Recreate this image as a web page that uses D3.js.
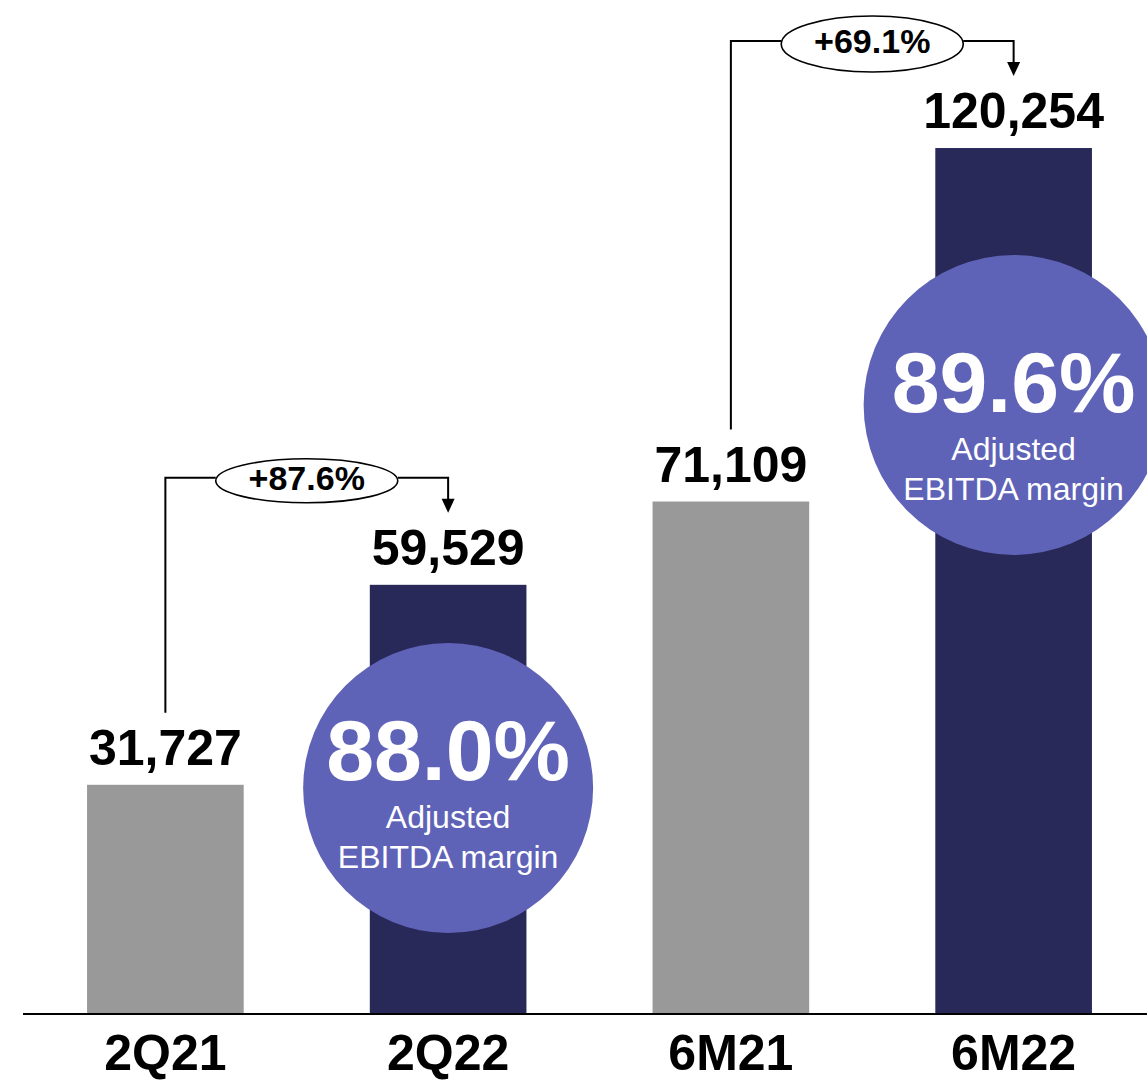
<!DOCTYPE html>
<html>
<head>
<meta charset="utf-8">
<script src="https://cdn.jsdelivr.net/npm/d3@7/dist/d3.min.js"></script>
<style>
  html, body { margin: 0; padding: 0; background: #ffffff; }
  svg { display: block; }
  text { font-family: "Liberation Sans", Arial, sans-serif; }
</style>
</head>
<body>
<svg id="chart" width="1147" height="1081"></svg>
<script>
// Adjusted EBITDA by period
const periods = ["2Q21", "2Q22", "6M21", "6M22"];
const ebitda = [31727, 59529, 71109, 120254];
const valueLabels = ["31,727", "59,529", "71,109", "120,254"];

// Year-over-year growth brackets (from period -> to period)
const growthFrom = ["2Q21", "6M21"];
const growthTo = ["2Q22", "6M22"];
const growthLabels = ["+87.6%", "+69.1%"];

// Adjusted EBITDA margin badges
const marginPeriods = ["2Q22", "6M22"];
const marginLabels = ["88.0%", "89.6%"];
const marginCaption = ["Adjusted", "EBITDA margin"];

// Colours
const barColors = { "2Q21": "#999999", "2Q22": "#282958", "6M21": "#999999", "6M22": "#282958" };
const badgeColor = "#5f63b8";

const W = 1147, H = 1081;
const baseY = 1013;

const svg = d3.select("#chart");

const x = d3.scaleBand()
  .domain(periods)
  .range([24, 1155])
  .paddingInner(0.446)
  .paddingOuter(0.223);

const y = d3.scaleLinear()
  .domain([0, 140000])
  .range([baseY, 6]);

const cx = p => x(p) + x.bandwidth() / 2;
const valueOf = p => ebitda[periods.indexOf(p)];

// Bars
svg.append("g").selectAll("rect")
  .data(periods)
  .join("rect")
  .attr("x", d => x(d))
  .attr("y", d => y(valueOf(d)))
  .attr("width", x.bandwidth())
  .attr("height", d => baseY - y(valueOf(d)))
  .attr("fill", d => barColors[d]);

// Margin badges (circles overlapping the bars)
const badgeLayout = [
  { cy: 788, r: 145, textY: 780 },
  { cy: 405, r: 150, textY: 412 }
];
const badges = svg.append("g").selectAll("g")
  .data(marginPeriods.map((p, i) => ({ p, label: marginLabels[i], ...badgeLayout[i] })))
  .join("g");

badges.append("circle")
  .attr("cx", d => cx(d.p))
  .attr("cy", d => d.cy)
  .attr("r", d => d.r)
  .attr("fill", badgeColor);

badges.append("text")
  .attr("x", d => cx(d.p))
  .attr("y", d => d.textY)
  .attr("text-anchor", "middle")
  .attr("font-size", 86)
  .attr("font-weight", "bold")
  .attr("fill", "#ffffff")
  .text(d => d.label);

marginCaption.forEach((line, k) => {
  badges.append("text")
    .attr("x", d => cx(d.p))
    .attr("y", d => d.textY + 48 + k * 40)
    .attr("text-anchor", "middle")
    .attr("font-size", 32)
    .attr("fill", "#ffffff")
    .text(line);
});

// Baseline axis
const axis = d3.axisBottom(x).tickSize(0).tickPadding(0);
const axisG = svg.append("g")
  .attr("transform", `translate(0,${baseY})`)
  .call(axis);
axisG.select(".domain").remove();
axisG.append("line")
  .attr("x1", 23).attr("x2", W)
  .attr("y1", 1).attr("y2", 1)
  .attr("stroke", "#000").attr("stroke-width", 2.2);
axisG.selectAll(".tick text")
  .attr("y", 57)
  .attr("dy", 0)
  .attr("font-family", "'Liberation Sans', Arial, sans-serif")
  .attr("font-size", 50)
  .attr("font-weight", "bold")
  .attr("fill", "#000");

// Value labels above bars
svg.append("g").selectAll("text")
  .data(periods)
  .join("text")
  .attr("x", d => cx(d))
  .attr("y", d => y(valueOf(d)) - 20)
  .attr("text-anchor", "middle")
  .attr("font-size", 50)
  .attr("font-weight", "bold")
  .attr("fill", "#000")
  .text((d, i) => valueLabels[i]);

// Growth brackets
const pillRy = [22, 28];
const brackets = svg.append("g").selectAll("g")
  .data(growthFrom.map((f, i) => ({ from: f, to: growthTo[i], label: growthLabels[i], ry: pillRy[i] })))
  .join("g");

brackets.each(function (d) {
  const g = d3.select(this);
  const x0 = cx(d.from), x1 = cx(d.to);
  const lineY = y(valueOf(d.to)) - 107;
  const bottom0 = y(valueOf(d.from)) - 72;
  const tip = y(valueOf(d.to)) - 72;
  const mid = (x0 + x1) / 2;
  const rx = 91;

  g.append("path")
    .attr("d", `M${x0},${bottom0}V${lineY}H${mid - rx}M${mid + rx},${lineY}H${x1}V${tip - 13}`)
    .attr("fill", "none")
    .attr("stroke", "#000")
    .attr("stroke-width", 2);

  g.append("path")
    .attr("d", `M${x1 - 6.5},${tip - 14}L${x1 + 6.5},${tip - 14}L${x1},${tip}Z`)
    .attr("fill", "#000");

  g.append("ellipse")
    .attr("cx", mid)
    .attr("cy", lineY + 3)
    .attr("rx", rx)
    .attr("ry", d.ry)
    .attr("fill", "#fff")
    .attr("stroke", "#000")
    .attr("stroke-width", 1.6);

  g.append("text")
    .attr("x", mid)
    .attr("y", lineY + 12)
    .attr("text-anchor", "middle")
    .attr("font-size", 34)
    .attr("font-weight", "bold")
    .attr("fill", "#000")
    .text(d.label);
});
</script>
</body>
</html>
